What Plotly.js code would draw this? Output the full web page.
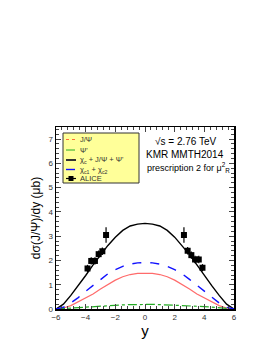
<!DOCTYPE html>
<html><head><meta charset="utf-8">
<script src="https://cdn.plot.ly/plotly-3.0.1.min.js"></script>
<style>html,body{margin:0;padding:0;background:#fff;}#plot{width:273px;height:353px;}</style>
</head><body><div id="plot"></div>
<script>
const rapidity = [-6,-5.5,-5,-4.5,-4,-3.5,-3,-2.5,-2,-1.5,-1,-0.5,0,0.5,1,1.5,2,2.5,3,3.5,4,4.5,5,5.5,6];
const jpsiDirect = [0,0.04,0.14,0.29,0.46,0.62,0.82,1.02,1.19,1.33,1.42,1.47,1.48,1.47,1.42,1.33,1.19,1.02,0.82,0.62,0.46,0.29,0.14,0.04,0];
const psiPrime = [0,0.02,0.05,0.08,0.10,0.12,0.14,0.15,0.16,0.17,0.18,0.19,0.19,0.19,0.18,0.17,0.16,0.15,0.14,0.12,0.10,0.08,0.05,0.02,0];
const totalSum = [0,0.2,0.56,0.96,1.38,1.82,2.24,2.62,2.96,3.24,3.42,3.5,3.53,3.5,3.42,3.24,2.96,2.62,2.24,1.82,1.38,0.96,0.56,0.2,0];
const chiC12 = [0,0.07,0.25,0.47,0.73,0.98,1.22,1.45,1.62,1.76,1.85,1.9,1.91,1.9,1.85,1.76,1.62,1.45,1.22,0.98,0.73,0.47,0.25,0.07,0];
const aliceY = [-3.875,-3.625,-3.375,-3.125,-2.875,-2.625,2.625,2.875,3.125,3.375,3.625,3.875];
const aliceVal = [1.67,1.98,1.98,2.26,2.38,3.05,3.05,2.4,2.22,2.04,2.04,1.7];
const aliceErr = [0.15,0.15,0.15,0.15,0.15,0.32,0.32,0.15,0.15,0.15,0.15,0.15];
const legendNames = ["J/\u03A8","\u03A8'","\u03C7<sub>c</sub> + J/\u03A8 + \u03A8'","\u03C7<sub>c1</sub> + \u03C7<sub>c2</sub>","ALICE"];

const styles = [
 {color:'#ff6b6b',width:1.2,dash:'solid'},
 {color:'#22aa22',width:1.2,dash:'dashdot'},
 {color:'#000',width:1.4,dash:'solid'},
 {color:'#1010ff',width:1.4,dash:'dash'}
];
const legendLineStyles = [
 {color:'#ff6b3b',width:1,dash:'dot'},
 {color:'#22aa22',width:1,dash:'dashdot'},
 {color:'#333',width:2,dash:'solid'},
 {color:'#1010ff',width:1.4,dash:'dash'}
];
const curves = [jpsiDirect,psiPrime,totalSum,chiC12];
const traces = curves.map((c,i)=>({x:rapidity,y:c,mode:'lines',name:legendNames[i],line:styles[i],showlegend:false}));
traces.push({x:aliceY,y:aliceVal,mode:'markers',name:legendNames[4],showlegend:false,marker:{symbol:'square',color:'#000',size:6},
  error_y:{type:'data',array:aliceErr,visible:true,color:'#000',thickness:1.2,width:0}});

// pixel -> paper helpers for the hand-built legend box
const L=56, T=127, W=178, H=182;
const px = x => (x-L)/W;
const py = y => 1-(y-T)/H;
const font = 'Liberation Sans, Arial, sans-serif';
const shapes = [{type:'rect',xref:'paper',yref:'paper',x0:px(63),x1:px(139),y0:py(183),y1:py(133),fillcolor:'#ffff99',line:{color:'#333',width:1},layer:'below'}];
const annotations = [];
const rowY = [139.5,150,160,169.5,178.5];
for(let i=0;i<5;i++){
  if(i<4){
    shapes.push({type:'line',xref:'paper',yref:'paper',x0:px(66),x1:px(76),y0:py(rowY[i]),y1:py(rowY[i]),line:legendLineStyles[i]});
  } else {
    shapes.push({type:'line',xref:'paper',yref:'paper',x0:px(66),x1:px(76),y0:py(rowY[i]),y1:py(rowY[i]),line:{color:'#000',width:1.2}});
    shapes.push({type:'rect',xref:'paper',yref:'paper',x0:px(68.5),x1:px(73.5),y0:py(rowY[i]+2.5),y1:py(rowY[i]-2.5),fillcolor:'#000',line:{color:'#000',width:0}});
  }
  annotations.push({xref:'paper',yref:'paper',x:px(78),y:py(rowY[i]),xanchor:'left',yanchor:'middle',text:legendNames[i],showarrow:false,font:{family:font,size:7.5,color:'#333'}});
}
annotations.push(
  {xref:'paper',yref:'paper',x:px(186),y:py(141.5),xanchor:'center',yanchor:'middle',text:'\u221As = 2.76 TeV',showarrow:false,font:{family:font,size:10,color:'#000'}},
  {xref:'paper',yref:'paper',x:px(185),y:py(154),xanchor:'center',yanchor:'middle',text:'KMR MMTH2014',showarrow:false,font:{family:font,size:10,color:'#000'}},
  {xref:'paper',yref:'paper',x:px(188),y:py(167),xanchor:'center',yanchor:'middle',text:'prescription 2 for \u03BC<sup>2</sup><sub>R</sub>',showarrow:false,font:{family:font,size:9,color:'#000'}}
);

const tickFont = {family:font,size:8,color:'#333'};
const layout = {
 width:273,height:353,
 margin:{l:L,r:273-L-W,t:T,b:353-T-H},
 paper_bgcolor:'#fff',plot_bgcolor:'#fff',
 showlegend:false,
 xaxis:{range:[-6,6],tickvals:[-6,-4,-2,0,2,4,6],ticks:'inside',ticklen:5,mirror:'allticks',showline:true,linecolor:'#000',linewidth:1.5,
   showgrid:false,zeroline:false,tickfont:tickFont,minor:{ticks:'inside',ticklen:3,dtick:0.4,showgrid:false},
   title:{text:'y',font:{family:font,size:15,color:'#000'},standoff:2}},
 yaxis:{range:[0,7.5],tickvals:[0,1,2,3,4,5,6,7],ticks:'inside',ticklen:5,mirror:'allticks',showline:true,linecolor:'#000',linewidth:1.5,
   showgrid:false,zeroline:false,tickfont:tickFont,minor:{ticks:'inside',ticklen:3,dtick:0.2,showgrid:false},
   title:{text:'d\u03C3(J/\u03A8)/dy (\u03BCb)',font:{family:font,size:12,color:'#000'},standoff:5}},
 shapes:shapes,
 annotations:annotations
};
Plotly.newPlot('plot',traces,layout,{staticPlot:true,displayModeBar:false});
</script></body></html>
